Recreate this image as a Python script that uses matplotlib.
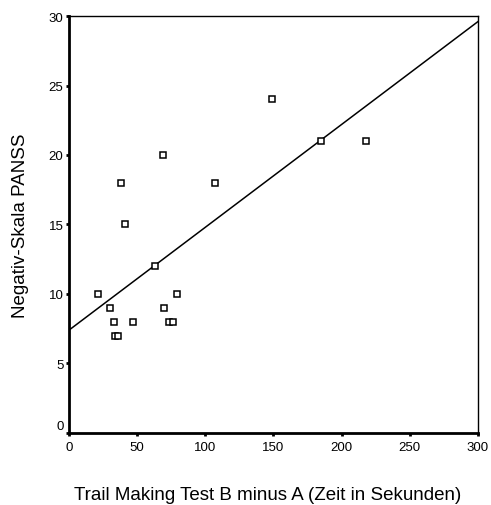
import numpy as np
import matplotlib.pyplot as plt
from matplotlib.transforms import ScaledTranslation

plt.rcParams['font.family'] = ['Liberation Sans', 'DejaVu Sans']

# Trail Making Test B minus A (Sekunden) und Negativ-Skala PANSS
tmt_diff = [21, 30, 33, 34, 36, 38, 41, 47, 63, 69, 70, 73, 76, 79, 107, 149, 185, 218]
panss_neg = [10, 9, 8, 7, 7, 18, 15, 8, 12, 20, 9, 8, 8, 10, 18, 24, 21, 21]

# Regressionsgerade
intercept = 7.4
slope = 0.074

x_ticks = [0, 50, 100, 150, 200, 250, 300]
y_ticks = [0, 5, 10, 15, 20, 25, 30]

fig = plt.figure(figsize=(4.91, 5.06), dpi=100)
ax = fig.add_axes([0.1405, 0.1423, 0.833, 0.8241])

ax.plot(tmt_diff, panss_neg, 's', mfc='white', mec='black', ms=5, mew=1.1, zorder=3)

xl = np.array([0, 300])
ax.plot(xl, intercept + slope * xl, color='black', lw=1.1)

ax.set_xlim(0, 300)
ax.set_ylim(0, 30)
ax.set_xticks(x_ticks)
ax.set_yticks(y_ticks)
ax.tick_params(direction='out', length=2, width=2, labelsize=9.5)
ax.tick_params(axis='x', pad=4)
ax.tick_params(axis='y', pad=2)

# die "0" an der y-Achse sitzt etwas hoeher
lab0 = ax.yaxis.get_major_ticks()[0].label1
lab0.set_transform(lab0.get_transform() + ScaledTranslation(0, 0.08, fig.dpi_scale_trans))

ax.spines['left'].set_linewidth(2)
ax.spines['bottom'].set_linewidth(2)
ax.spines['top'].set_linewidth(1)
ax.spines['right'].set_linewidth(1)

ax.set_xlabel('Trail Making Test B minus A (Zeit in Sekunden)', fontsize=13.5)
ax.set_ylabel('Negativ-Skala PANSS', fontsize=13.5)
ax.xaxis.set_label_coords(0.485, -0.128)
ax.yaxis.set_label_coords(-0.098, 0.5)

fig.savefig('out.png', dpi=100)
